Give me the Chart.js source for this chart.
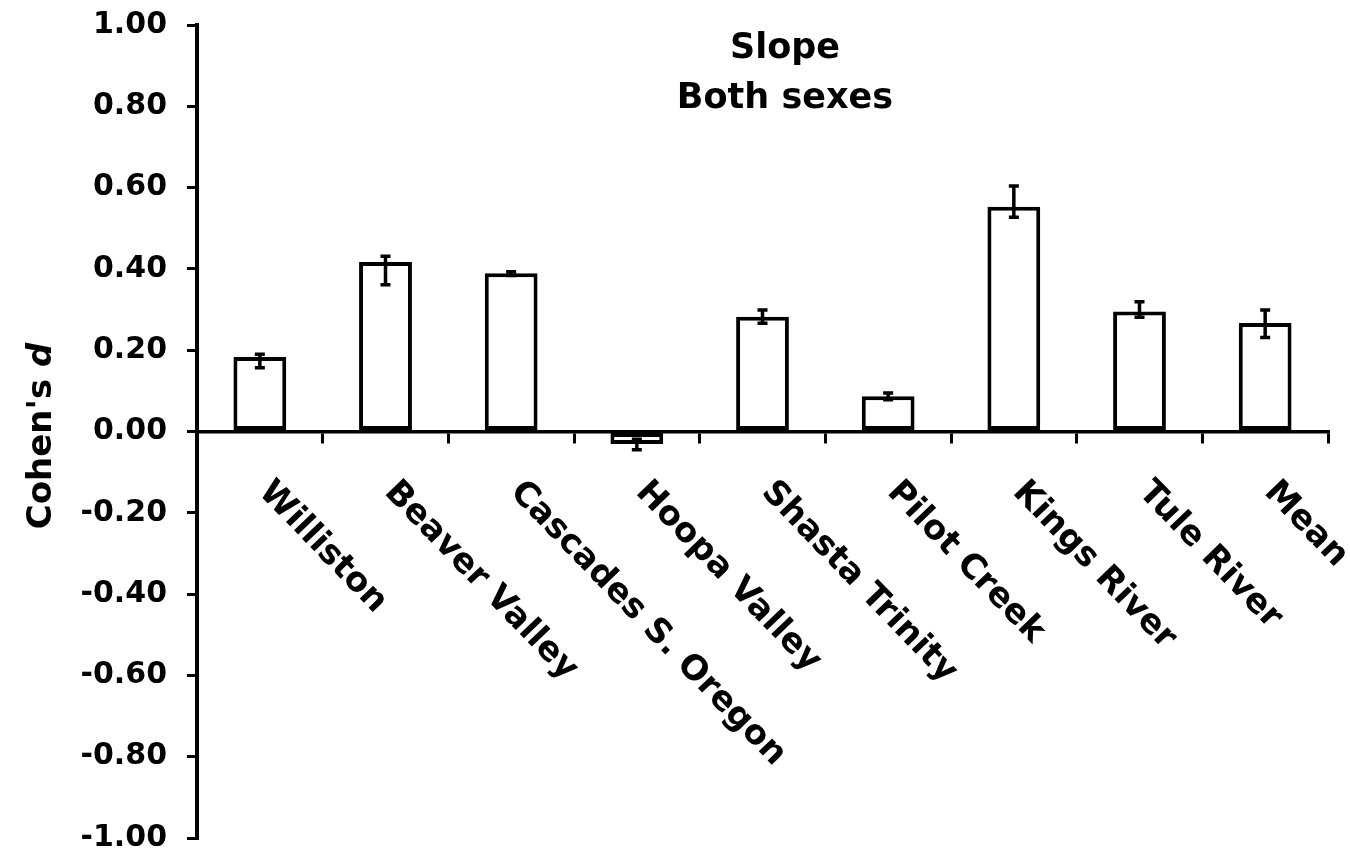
<!DOCTYPE html>
<html>
<head>
<meta charset="utf-8">
<title>Slope - Both sexes</title>
<script src="https://cdn.jsdelivr.net/npm/chart.js@4.4.1/dist/chart.umd.min.js"></script>
<style>
  html, body { margin: 0; padding: 0; background: #fff; }
  #chart { display: block; }
</style>
</head>
<body>
<canvas id="chart" width="1350" height="858"></canvas>
<script>
// Datos
const sitios = ['Williston', 'Beaver Valley', 'Cascades S. Oregon', 'Hoopa Valley', 'Shasta Trinity', 'Pilot Creek', 'Kings River', 'Tule River', 'Mean']
const cohenD = [0.183, 0.417, 0.389, -0.031, 0.282, 0.087, 0.553, 0.295, 0.267]
const errorArriba = [0.190, 0.431, 0.393, -0.019, 0.299, 0.095, 0.604, 0.319, 0.299]
const errorAbajo = [0.157, 0.361, 0.384, -0.045, 0.266, 0.078, 0.527, 0.281, 0.231]
const tituloLineas = ['Slope', 'Both sexes']

const fuente = '"DejaVu Sans", "Liberation Sans", Arial, sans-serif'

// Barras de error
const pluginErrores = {
  id: 'errores',
  afterDatasetsDraw (chart) {
    const ctx = chart.ctx
    const y = chart.scales.y
    const meta = chart.getDatasetMeta(0)
    ctx.save()
    ctx.strokeStyle = '#000'
    ctx.lineWidth = 3.5
    meta.data.forEach((bar, i) => {
      const yTop = y.getPixelForValue(errorArriba[i])
      const yBot = y.getPixelForValue(errorAbajo[i])
      ctx.beginPath()
      ctx.moveTo(bar.x, yTop)
      ctx.lineTo(bar.x, yBot)
      ctx.moveTo(bar.x - 5, yTop)
      ctx.lineTo(bar.x + 5, yTop)
      ctx.moveTo(bar.x - 5, yBot)
      ctx.lineTo(bar.x + 5, yBot)
      ctx.stroke()
    })
    ctx.restore()
  }
}

// Etiquetas inclinadas, titulo y titulo del eje
const pluginTextos = {
  id: 'textos',
  afterDraw (chart) {
    const ctx = chart.ctx
    const x = chart.scales.x
    const y = chart.scales.y
    const y0 = y.getPixelForValue(0)
    ctx.save()
    ctx.fillStyle = '#000'

    // nombres de los sitios
    ctx.font = 'bold 34px ' + fuente
    ctx.textAlign = 'left'
    ctx.textBaseline = 'top'
    sitios.forEach((s, i) => {
      ctx.save()
      ctx.translate(x.getPixelForValue(i) + 13, y0 + 47)
      ctx.rotate(46 * Math.PI / 180)
      ctx.fillText(s, 0, -5)
      ctx.restore()
    })

    // titulo
    ctx.font = 'bold 35px ' + fuente
    ctx.textAlign = 'center'
    ctx.textBaseline = 'alphabetic'
    ctx.fillText(tituloLineas[0], 785, 58)
    ctx.fillText(tituloLineas[1], 785, 108)

    // eje y: Cohen's d (d en cursiva)
    ctx.save()
    ctx.translate(51, 436)
    ctx.rotate(-Math.PI / 2)
    ctx.textAlign = 'left'
    const parte1 = "Cohen's "
    ctx.font = 'bold 34px ' + fuente
    const w1 = ctx.measureText(parte1).width
    ctx.font = 'italic bold 34px ' + fuente
    const w2 = ctx.measureText('d').width
    const inicio = -(w1 + w2) / 2
    ctx.font = 'bold 34px ' + fuente
    ctx.fillText(parte1, inicio, 0)
    ctx.font = 'italic bold 34px ' + fuente
    ctx.fillText('d', inicio + w1, 0)
    ctx.restore()

    ctx.restore()
  }
}

const config = {
  type: 'bar',
  data: {
    labels: sitios,
    datasets: [{
      data: cohenD,
      backgroundColor: '#fff',
      borderColor: '#000',
      borderWidth: 4,
      borderSkipped: false,
      barPercentage: 0.42,
      categoryPercentage: 1
    }]
  },
  options: {
    responsive: false,
    animation: false,
    layout: { padding: { top: 0, right: 22, bottom: 0, left: 0 } },
    plugins: {
      legend: { display: false },
      title: { display: false },
      tooltip: { enabled: false }
    },
    scales: {
      x: {
        position: { y: 0 },
        grid: {
          offset: true,
          drawOnChartArea: false,
          drawTicks: true,
          tickLength: 10,
          color: '#000',
          lineWidth: 3
        },
        border: { display: true, color: '#000', width: 3.5 },
        ticks: { display: false }
      },
      y: {
        min: -1,
        max: 1,
        afterFit: (scale) => {
          scale.width = 197
          scale.paddingTop = 25
          scale.paddingBottom = 20
        },
        grid: {
          drawOnChartArea: false,
          drawTicks: true,
          tickLength: 10,
          color: '#000',
          lineWidth: 3
        },
        border: { display: true, color: '#000', width: 4 },
        ticks: {
          stepSize: 0.2,
          padding: 20,
          color: '#000',
          font: { family: fuente, weight: 'bold', size: 30 },
          callback: (v) => Math.abs(v) < 1e-9 ? '0.00' : v.toFixed(2)
        }
      }
    }
  },
  plugins: [pluginErrores, pluginTextos]
}

const chart = new Chart(document.getElementById('chart'), config)
</script>
</body>
</html>
